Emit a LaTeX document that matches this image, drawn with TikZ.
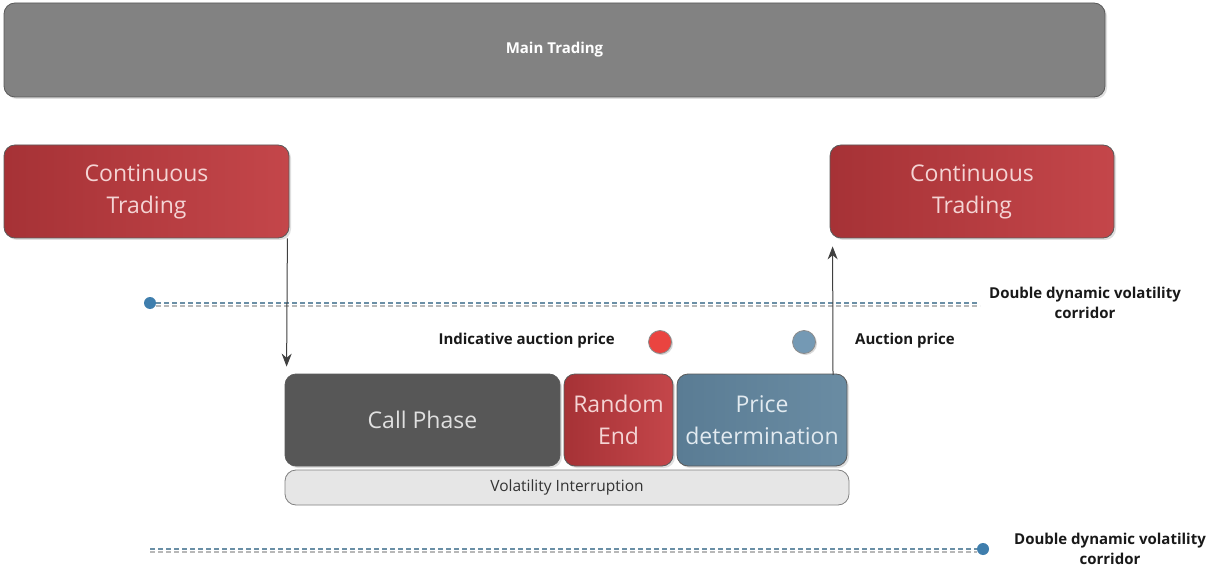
\documentclass[tikz,border=0pt]{standalone}
\usepackage{fontspec}
\setmainfont{Open Sans}
\usetikzlibrary{shadows,arrows.meta}
\definecolor{maingray}{HTML}{828282}
\definecolor{mainborder}{HTML}{5A5A5A}
\definecolor{redA}{HTML}{A63236}
\definecolor{redB}{HTML}{C4464A}
\definecolor{redtxt}{HTML}{F4D4D4}
\definecolor{callgray}{HTML}{575757}
\definecolor{calltxt}{HTML}{E0E0E0}
\definecolor{blueA}{HTML}{5A7C94}
\definecolor{blueB}{HTML}{6A8CA3}
\definecolor{bluetxt}{HTML}{E2EAF0}
\definecolor{vigray}{HTML}{E6E6E6}
\definecolor{corrblue}{HTML}{6A8FA6}
\definecolor{corrshadow}{HTML}{B8B8B8}
\definecolor{dotblue}{HTML}{3F7EAD}
\definecolor{redball}{HTML}{EA4440}
\definecolor{blueball}{HTML}{7499B4}
\tikzset{
  x=1pt, y=-1pt,
  boxbase/.style={rounded corners=11pt, draw=mainborder, line width=0.8pt,
    align=center, inner sep=0pt, drop shadow={shadow xshift=2pt, shadow yshift=-2pt, opacity=0.25}},
  mainbox/.style={boxbase, fill=maingray, text=white, font=\bfseries\fontsize{15}{17}\selectfont},
  redbox/.style={boxbase, left color=redA, right color=redB, text=redtxt, font=\fontsize{23}{32}\selectfont},
  callbox/.style={boxbase, fill=callgray, text=calltxt, font=\fontsize{23}{32}\selectfont},
  bluebox/.style={boxbase, left color=blueA, right color=blueB, text=bluetxt, font=\fontsize{23}{32}\selectfont},
  vibox/.style={rounded corners=11pt, draw=gray, line width=0.8pt, fill=vigray, text=black!80,
    font=\fontsize{15.5}{18}\selectfont, inner sep=0pt},
  arr/.style={draw=black!75, line width=1pt, -{Stealth[length=13pt,width=10pt]}},
  corr/.style={draw=corrblue, line width=2.8pt, dash pattern=on 5pt off 3pt},
  corrsh/.style={draw=corrshadow, line width=1.8pt, dash pattern=on 5pt off 3pt},
  dotc/.style={circle, fill=dotblue, minimum size=12pt, inner sep=0pt},
  ball/.style={circle, draw=black!45, line width=0.8pt, minimum size=23pt, inner sep=0pt,
    drop shadow={shadow xshift=1.5pt, shadow yshift=-1.5pt, opacity=0.3}},
  lbl/.style={font=\bfseries\fontsize{15}{20}\selectfont, text=black!90, align=center, inner sep=0pt}
}
\begin{document}
\begin{tikzpicture}
\useasboundingbox (0,0) rectangle (1212,569);
\fill[white] (0,0) rectangle (1212,569);

\node[mainbox, minimum width=1101pt, minimum height=94pt] (main) at (554.5,50) {Main Trading};

\node[redbox, minimum width=285pt, minimum height=93pt] (ctl) at (146.5,191.5) {Continuous\\Trading};
\node[redbox, minimum width=284pt, minimum height=93pt] (ctr) at (972,191.5) {Continuous\\Trading};

\node[callbox, minimum width=275pt, minimum height=92pt] (call) at (422.5,420) {Call Phase};
\node[redbox, minimum width=109pt, minimum height=92pt] (rand) at (618.5,420) {Random\\End};
\node[bluebox, minimum width=170pt, minimum height=92pt] (price) at (762,420) {Price\\determination};
\node[vibox, minimum width=564pt, minimum height=35pt] (vi) at (567,487.5) {Volatility Interruption};

% corridors
\node[dotc] (d1) at (150,303) {};
\coordinate (d1e) at (980,303);
\draw[corrsh] ([shift={(6pt,-3pt)}]d1.center) -- ([yshift=-3pt]d1e);
\draw[corr] (d1) -- (d1e);

\node[dotc] (d2) at (983,549) {};
\coordinate (d2s) at (150,549);
\draw[corrsh] ([yshift=-3pt]d2s) -- ([shift={(-6pt,-3pt)}]d2.center);
\draw[corr] (d2s) -- (d2);

\node[lbl] (l1) at (1085,303) {Double dynamic volatility\\corridor};
\node[lbl] (l2) at (1110,549) {Double dynamic volatility\\corridor};

% balls
\node[ball, fill=redball] (rb) at (660,342) {};
\node[ball, fill=blueball] (bb) at (804,342) {};
\node[lbl, anchor=east] (iap) at (615,341) {Indicative auction price};
\node[lbl, anchor=west] (ap) at (855,341) {Auction price};

% arrows
\draw[arr] ([xshift=-2pt]ctl.south east) -- ([shift={(2pt,7pt)}]call.north west);
\coordinate (upstart) at (833,375);
\draw[arr] (upstart) -- ([shift={(3pt,-8pt)}]ctr.south west);
\end{tikzpicture}
\end{document}
